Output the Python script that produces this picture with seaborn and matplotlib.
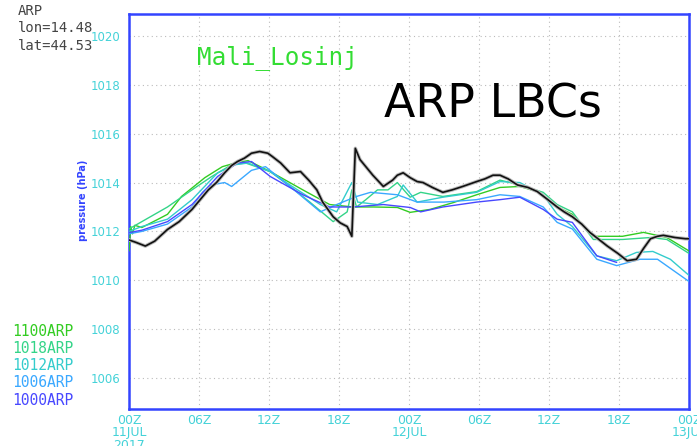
import numpy as np
import pandas as pd
import matplotlib
matplotlib.use("Agg")
import matplotlib.pyplot as plt
import seaborn as sns

# ---------------- data (hours since 00Z 11 JUL 2017, pressure hPa) ----------------
obs_h = [0, 0.6, 1.4, 2.2, 3.3, 4.3, 5.4, 6.1, 6.8, 7.5, 8.2, 8.8, 9.3, 9.9, 10.5, 11.2, 11.9,
         12.3, 13.0, 13.8, 14.7, 15.4, 16.1, 16.6, 17.5, 18.1, 18.7, 19.1, 19.4, 19.8, 20.9,
         21.8, 22.6, 23.0, 23.5, 24.1, 24.7, 25.2, 26.0, 26.9, 27.7, 28.6, 29.8, 30.5, 31.2,
         31.8, 32.5, 33.3, 34.2, 35.0, 35.9, 36.7, 37.3, 38.0, 38.8, 39.5, 40.2, 41.0, 41.9,
         42.7, 43.5, 44.1, 44.7, 45.3, 45.8, 46.8, 47.7, 48.0]
obs_p = [1011.65, 1011.55, 1011.4, 1011.6, 1012.08, 1012.4, 1012.9, 1013.3, 1013.7, 1014.0,
         1014.4, 1014.7, 1014.86, 1015.0, 1015.2, 1015.27, 1015.2, 1015.06, 1014.8, 1014.4,
         1014.45, 1014.1, 1013.7, 1013.2, 1012.6, 1012.35, 1012.2, 1011.8, 1015.4, 1014.94,
         1014.3, 1013.84, 1014.1, 1014.3, 1014.4, 1014.2, 1014.04, 1014.0, 1013.8, 1013.6,
         1013.7, 1013.84, 1014.04, 1014.15, 1014.3, 1014.3, 1014.15, 1013.9, 1013.8, 1013.63,
         1013.3, 1013.0, 1012.8, 1012.6, 1012.3, 1011.96, 1011.7, 1011.4, 1011.1, 1010.8,
         1010.86, 1011.3, 1011.7, 1011.8, 1011.84, 1011.75, 1011.7, 1011.7]

h1100 = [0, 0.15, 0.3, 0.5, 1.1, 2.5, 3.3, 4.5, 6.5, 8.0, 9.1, 10.2, 12.1, 14.9, 17.2, 19.2,
         21.0, 23.0, 24.1, 25.8, 27.8, 29.8, 31.8, 33.5, 35.0, 36.7, 38.0, 39.8, 42.3, 44.1,
         46.1, 48.0]
p1100 = [1011.2, 1012.2, 1011.9, 1012.25, 1012.16, 1012.5, 1012.7, 1013.43, 1014.2, 1014.65,
         1014.8, 1014.9, 1014.45, 1013.7, 1013.1, 1013.0, 1013.0, 1012.98, 1012.78, 1012.9,
         1013.18, 1013.5, 1013.8, 1013.84, 1013.63, 1013.0, 1012.7, 1011.8, 1011.8, 1011.96,
         1011.75, 1011.2]

h1018 = [0, 1.1, 3.3, 5.4, 7.1, 8.8, 10.0, 12.1, 13.8, 15.5, 17.5, 18.7, 19.1, 19.5, 20.3,
         21.3, 22.2, 23.0, 24.1, 25.0, 26.9, 29.8, 31.8, 33.5, 35.5, 36.7, 38.0, 39.8, 42.3,
         44.7, 46.1, 48.0]
p1018 = [1012.1, 1012.4, 1013.0, 1013.7, 1014.25, 1014.73, 1014.8, 1014.45, 1013.84, 1013.2,
         1012.4, 1012.8, 1013.7, 1013.0, 1013.3, 1013.7, 1013.7, 1014.0, 1013.4, 1013.6,
         1013.43, 1013.63, 1014.1, 1013.9, 1013.6, 1013.1, 1012.8, 1011.67, 1011.67, 1011.75,
         1011.67, 1011.1]

h1012 = [0, 1.1, 3.3, 5.4, 7.6, 9.1, 10.2, 12.1, 13.8, 16.4, 17.8, 19.1, 19.6, 21.3, 23.0,
         23.5, 24.7, 26.9, 29.8, 31.8, 33.5, 35.5, 36.7, 38.0, 40.1, 41.8, 43.5, 44.9, 46.4,
         48.0]
p1012 = [1012.0, 1012.2, 1012.5, 1013.3, 1014.4, 1014.73, 1014.8, 1014.45, 1013.9, 1013.1,
         1012.8, 1014.0, 1013.2, 1013.1, 1013.43, 1013.9, 1013.2, 1013.4, 1013.6, 1014.04,
         1014.0, 1013.5, 1012.7, 1012.2, 1011.0, 1010.8, 1011.14, 1011.18, 1010.86, 1010.2]

h1006 = [0, 1.1, 3.3, 5.4, 6.3, 7.0, 8.2, 8.8, 10.5, 11.7, 13.8, 16.4, 17.8, 19.5, 20.7, 23.0,
         24.7, 27.0, 29.8, 31.8, 33.5, 35.5, 36.7, 38.0, 40.1, 41.8, 43.8, 45.3, 48.0]
p1006 = [1011.9, 1012.0, 1012.3, 1013.0, 1013.6, 1013.9, 1014.0, 1013.84, 1014.5, 1014.65,
         1013.84, 1012.8, 1013.1, 1013.43, 1013.6, 1013.5, 1013.2, 1013.2, 1013.3, 1013.5,
         1013.43, 1013.0, 1012.37, 1012.1, 1010.86, 1010.6, 1010.86, 1010.86, 1009.95]

h1000 = [0, 1.1, 3.3, 5.4, 7.6, 9.3, 10.5, 12.1, 14.9, 17.2, 19.2, 21.8, 24.1, 25.0, 26.9,
         29.8, 31.8, 33.5, 35.5, 36.7, 38.0, 40.1, 41.8]
p1000 = [1011.95, 1012.05, 1012.4, 1013.1, 1014.25, 1014.8, 1014.86, 1014.25, 1013.5, 1013.0,
         1013.0, 1013.1, 1012.98, 1012.8, 1013.0, 1013.2, 1013.3, 1013.4, 1012.9, 1012.5,
         1012.37, 1011.0, 1010.73]

run_names = ["1100ARP", "1018ARP", "1012ARP", "1006ARP", "1000ARP"]
run_colors = ["#33cc22", "#33d488", "#33cccc", "#3aa8ff", "#4848ff"]
x_ticks = [0, 6, 12, 18, 24, 30, 36, 42, 48]
x_labels = ["00Z\n11JUL\n2017", "06Z", "12Z", "18Z", "00Z\n12JUL", "06Z", "12Z", "18Z", "00Z\n13JUL"]
y_ticks = [1006, 1008, 1010, 1012, 1014, 1016, 1018, 1020]

# ---------------- build frames ----------------
frames = []
for name, hh, pp in zip(run_names, [h1100, h1018, h1012, h1006, h1000],
                        [p1100, p1018, p1012, p1006, p1000]):
    frames.append(pd.DataFrame({"hour": hh, "pressure": pp, "run": name}))
runs = pd.concat(frames, ignore_index=True)
obs = pd.DataFrame({"hour": obs_h, "pressure": obs_p})

# ---------------- figure ----------------
sns.set_style("white")
tick_col = "#44d2d8"
fig = plt.figure(figsize=(6.97, 4.46), dpi=100)
ax = fig.add_axes([129 / 697, 1 - 409 / 446, 560 / 697, 395 / 446])

sns.lineplot(data=runs, x="hour", y="pressure", hue="run", hue_order=run_names,
             palette=dict(zip(run_names, run_colors)), estimator=None, sort=False,
             linewidth=1.0, legend=False, ax=ax, zorder=3)
sns.lineplot(data=obs, x="hour", y="pressure", color="#bbbbbb", linewidth=2.6,
             estimator=None, sort=False, ax=ax, zorder=4)
sns.lineplot(data=obs, x="hour", y="pressure", color="#111111", linewidth=1.2,
             estimator=None, sort=False, ax=ax, zorder=5)

ax.set_xlim(0, 48)
ax.set_ylim(1004.73, 1020.9)
ax.set_xticks(x_ticks)
ax.set_xticklabels(x_labels)
ax.set_yticks(y_ticks)
ax.set_yticklabels([str(v) for v in y_ticks])
ax.grid(True, linestyle=(0, (1, 3)), color="#bbbbbb", linewidth=0.8)
ax.tick_params(axis="y", colors=tick_col, labelsize=8.5, length=5, width=1,
               direction="out", labelcolor=tick_col, pad=1)
ax.tick_params(axis="x", colors=tick_col, labelsize=9, length=3, width=1,
               direction="out", labelcolor=tick_col, pad=0.5)
for lab in ax.get_xticklabels():
    lab.set_linespacing(0.95)
for s in ax.spines.values():
    s.set_color("#3344ff")
    s.set_linewidth(1.8)
ax.set_xlabel("")
ax.set_ylabel("pressure (hPa)", color="#3344ff", fontsize=7, fontweight="bold")
ax.yaxis.set_label_coords((88 - 129) / 560, (409 - 200) / 395)

# ---------------- annotations ----------------
mono = "DejaVu Sans Mono"
fig.text(18 / 697, 1 - 4 / 446, "ARP\nlon=14.48\nlat=44.53", ha="left", va="top",
         fontsize=10, color="#444444", linespacing=1.3, family=mono)
fig.text(197 / 697, 1 - 58 / 446, "Mali_Losinj", ha="left", va="center",
         fontsize=17.5, color="#33dd33", family=mono)
fig.text(384 / 697, 1 - 117 / 446, "ARP LBCs", ha="left", va="baseline",
         fontsize=33, color="black", family="DejaVu Sans")
for i, (name, col) in enumerate(zip(run_names, run_colors)):
    fig.text(12 / 697, 1 - (331 + 17.3 * i) / 446, name, ha="left", va="center",
             fontsize=10.5, color=col, family=mono)

fig.savefig("out.png", dpi=100, facecolor="white")
